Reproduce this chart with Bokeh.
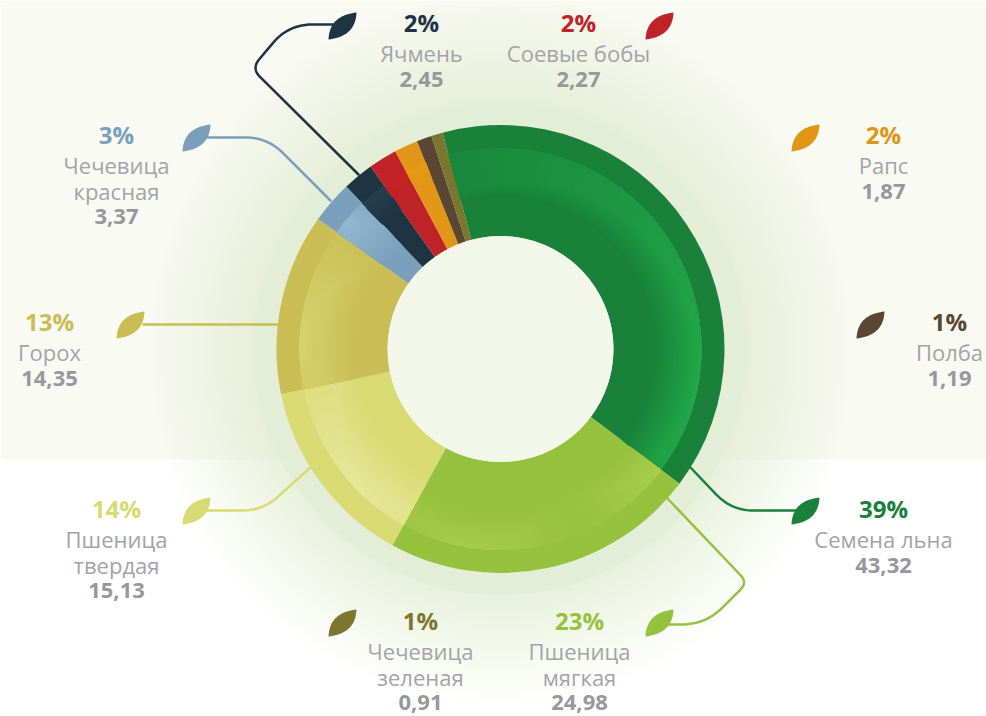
import numpy as np
from bokeh.plotting import figure
from bokeh.models import Range1d
from bokeh.core.properties import value
from bokeh.embed import file_html
from bokeh.resources import INLINE

W, H = 986, 716

# --- data ---
crops = ["Семена льна", "Пшеница мягкая", "Пшеница твердая", "Горох", "Чечевица красная",
         "Ячмень", "Соевые бобы", "Рапс", "Полба", "Чечевица зеленая"]
name_lines = [["Семена льна"], ["Пшеница", "мягкая"], ["Пшеница", "твердая"], ["Горох"],
              ["Чечевица", "красная"], ["Ячмень"], ["Соевые бобы"], ["Рапс"], ["Полба"],
              ["Чечевица", "зеленая"]]
values = [43.32, 24.98, 15.13, 14.35, 3.37, 2.45, 2.27, 1.87, 1.19, 0.91]
percents = ["39%", "23%", "14%", "13%", "3%", "2%", "2%", "2%", "1%", "1%"]
colors = ["#19813a", "#95c23d", "#d8da72", "#c9bd53", "#799fbb",
          "#1e3443", "#c02327", "#e29617", "#5a4633", "#7c772f"]

# --- layout (page pixels) ---
CX, CY = 500, 348.5
R_OUT, R_BAND, R_HOLE, R_HALO, R_GLOW = 224, 201, 113, 246, 356
START = -15.0          # degrees clockwise from 12 o'clock
label_x = [883, 579, 116, 49, 116, 421, 578, 883, 949, 420]
label_y = [507.5, 619.5, 507.5, 320.5, 133.5, 21.5, 21.5, 133.5, 320.5, 619.5]
leaf_xy = [(791, 497), (645, 609), (182, 497), (116, 311), (182, 124),
           (328, 12), (645, 12), (791, 124), (856, 311), (328, 609)]
connectors = {
    0: ([(690, 467), (731, 510), (797, 510)], [22]),
    1: ([(667, 498), (747, 582), (705, 624), (668, 624)], [10, 24]),
    2: ([(310, 467), (262, 510), (207, 510)], [20]),
    3: ([(143, 324), (278, 324)], []),
    4: ([(207, 137), (267, 137), (330, 200)], [22]),
    5: ([(333, 24), (288, 24), (251, 68), (358, 174)], [24, 12]),
}
# highlight blobs in the inner band: sector, peak angle, half width, depth, colour
highlights = [
    (0, 98, 130, 48, "#21a949"),
    (1, 126, 30, 40, "#a8ce4c"),
    (1, 190, 34, 36, "#a6cc4a"),
    (2, 226, 48, 55, "#e6e79a"),
    (3, 272, 40, 55, "#d7d26c"),
    (4, 309, 14, 60, "#95b8cf"),
    (5, 319, 30, 30, "#264051"),
    (6, 327, 30, 16, "#c62428"),
    (7, 333, 30, 16, "#e69c17"),
]


def Y(y):
    return H - np.asarray(y, dtype=float)


def rgb(h):
    return np.array([int(h[i:i + 2], 16) for i in (1, 3, 5)], dtype=float)


def mix(a, b, t):
    c = rgb(a) * (1 - t) + rgb(b) * t
    return "#%02x%02x%02x" % tuple(int(round(v)) for v in c)


def rounded(points, radii):
    """Polyline in page pixels with quadratic rounding at inner corners."""
    pts = [np.array(q, dtype=float) for q in points]
    out = [pts[0]]
    for i in range(1, len(pts) - 1):
        p0, c, p2 = pts[i - 1], pts[i], pts[i + 1]
        r = radii[i - 1]
        a = c + (p0 - c) / np.linalg.norm(p0 - c) * r
        b = c + (p2 - c) / np.linalg.norm(p2 - c) * r
        for t in np.linspace(0, 1, 14):
            out.append((1 - t) ** 2 * a + 2 * t * (1 - t) * c + t ** 2 * b)
    out.append(pts[-1])
    arr = np.array(out)
    return arr[:, 0], arr[:, 1]


def leaf(x0, y0):
    s = np.linspace(0, 1, 24)
    tip, base = np.array([28.0, 0.0]), np.array([0.0, 27.0])
    c1, c2 = np.array([1.0, 3.0]), np.array([27.0, 24.0])
    a = np.outer((1 - s) ** 2, tip) + np.outer(2 * s * (1 - s), c1) + np.outer(s ** 2, base)
    b = np.outer((1 - s) ** 2, base) + np.outer(2 * s * (1 - s), c2) + np.outer(s ** 2, tip)
    q = np.vstack([a, b[1:]])
    return q[:, 0] + x0, q[:, 1] + y0


p = figure(width=W, height=H, x_range=Range1d(0, W), y_range=Range1d(0, H),
           output_backend="svg", toolbar_location=None, min_border=0,
           x_axis_location=None, y_axis_location=None)
p.grid.visible = False
p.outline_line_color = None
p.background_fill_color = "#ffffff"
p.border_fill_color = "#ffffff"

# radial glow: opaque discs, largest first
for r in np.arange(R_GLOW, R_HALO, -2.0):
    t = (R_GLOW - r) / (R_GLOW - R_HALO)
    p.circle(x=CX, y=Y(CY), radius=r, fill_color=mix("#ffffff", "#e9f1dc", t), line_color=None)

# pale band behind the upper part, laid thinly over the glow
p.quad(left=0, right=W, top=H, bottom=Y(459), fill_color="#e1e6c8", fill_alpha=0.2, line_color=None)

p.circle(x=CX, y=Y(CY), radius=R_HALO, fill_color="#e4edd6", line_color=None)

# connectors
for i, (pts, radii) in connectors.items():
    xs, ys = rounded(pts, radii)
    p.line(xs, Y(ys), line_color=colors[i], line_width=2.5, line_cap="round", line_join="round")

# sectors
total = sum(values)
sweep = np.array(values) / total * 360
edges = START + np.concatenate([[0], np.cumsum(sweep)])
rad = np.deg2rad


def wedge(t0, t1, r0, r1, color):
    p.annular_wedge(x=CX, y=Y(CY), inner_radius=r0, outer_radius=r1,
                    start_angle=rad(90 - t1), end_angle=rad(90 - t0),
                    fill_color=color, line_color=None)


for i, c in enumerate(colors):
    wedge(edges[i], edges[i + 1], R_HOLE, R_OUT, c)

# soft highlights in the inner band: opaque nested wedges
K = 30
for sector, peak, hw, depth, col in highlights:
    lo, hi = edges[sector], edges[sector + 1]
    for k in range(K):
        u = 1 - k / K
        t0 = max(lo, peak - hw * u)
        t1 = min(hi, peak + hw * u)
        if t1 > t0:
            wedge(t0, t1, R_BAND - depth * u, R_BAND, mix(colors[sector], col, (k + 1) / K))

p.circle(x=CX, y=Y(CY), radius=R_HOLE, fill_color="#f3f7e9", line_color=None)

# leaves
for (lx, ly), c in zip(leaf_xy, colors):
    xs, ys = leaf(lx, ly)
    p.patch(xs, Y(ys), fill_color=c, line_color=None)

# texts
STEP_NAME, STEP_LINE, STEP_VAL = 31, 25.5, 26
for i, crop in enumerate(crops):
    x, y = label_x[i], label_y[i]
    p.text(x=[x], y=Y([y]), text=[percents[i]], text_align="center", text_baseline="middle",
           text_font=value("Open Sans"), text_font_size=value("24px"), text_font_style="bold",
           text_color=colors[i])
    yy = y + STEP_NAME
    for ln in name_lines[i]:
        p.text(x=[x], y=Y([yy]), text=[ln], text_align="center", text_baseline="middle",
               text_font=value("Open Sans"), text_font_size=value("22px"),
               text_color="#a3a4a7")
        yy += STEP_LINE
    yy = yy - STEP_LINE + STEP_VAL
    p.text(x=[x], y=Y([yy]), text=[f"{values[i]:.2f}".replace(".", ",")], text_align="center",
           text_baseline="middle", text_font=value("Open Sans"), text_font_size=value("22px"),
           text_font_style="bold", text_color="#97989c")

open("out.html", "w").write(file_html(p, INLINE))
